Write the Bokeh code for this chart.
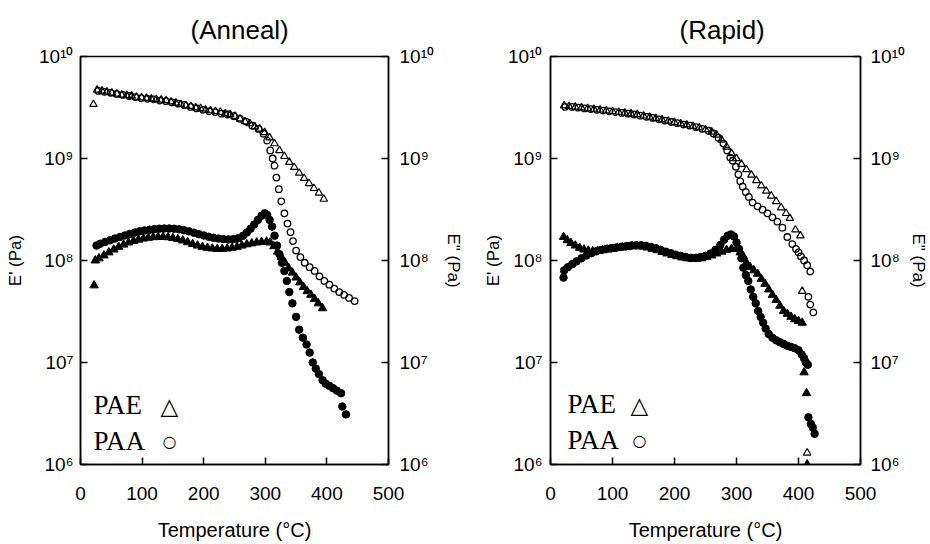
import math
from bokeh.plotting import figure
from bokeh.models import Range1d, FixedTicker, LogAxis, CustomJSTickFormatter, Label
from bokeh.layouts import row
from bokeh.embed import file_html
from bokeh.resources import INLINE

# ---------------- data ----------------
x_ticks = [0, 100, 200, 300, 400, 500]
y_ticks = [1e6, 1e7, 1e8, 1e9, 1e10]
y_tick_labels = ["10⁶", "10⁷", "10⁸", "10⁹", "10¹⁰"]

panel_titles = ["(Anneal)", "(Rapid)"]
x_label = "Temperature (°C)"
y_label_left = "E' (Pa)"
y_label_right = 'E" (Pa)'
legend_names = ["PAE", "PAA"]

# Anneal: PAE E' (open triangles)
anneal_pae_storage_T = [21, 27, 35, 43, 51, 59, 67, 75, 83, 91, 99, 107, 115, 123, 131, 139, 147, 155, 163, 171,
                        179, 187, 195, 203, 211, 219, 227, 235, 243, 251, 259, 267, 275, 283, 291, 299, 307, 315,
                        323, 331, 339, 347, 355, 363, 371, 379, 387, 395]
anneal_pae_storage = [3.4e9, 4.7e9, 4.6e9, 4.5e9, 4.4e9, 4.3e9, 4.2e9, 4.15e9, 4.1e9, 4.0e9, 3.95e9, 3.9e9, 3.85e9,
                      3.8e9, 3.75e9, 3.7e9, 3.6e9, 3.5e9, 3.4e9, 3.3e9, 3.25e9, 3.15e9, 3.1e9, 3.0e9, 2.95e9, 2.9e9,
                      2.85e9, 2.75e9, 2.7e9, 2.6e9, 2.45e9, 2.3e9, 2.2e9, 2.05e9, 1.95e9, 1.8e9, 1.6e9, 1.4e9, 1.2e9,
                      1.05e9, 9.2e8, 8.2e8, 7.2e8, 6.4e8, 5.7e8, 5.1e8, 4.6e8, 4.0e8]
# Anneal: PAA E' (open circles)
anneal_paa_storage_T = [29, 39, 49, 59, 69, 79, 89, 99, 109, 119, 129, 139, 149, 159, 169, 179, 189, 199, 209, 219,
                        229, 239, 249, 259, 269, 279, 289, 297, 303, 308, 312, 315, 318, 322, 326, 331, 336, 341,
                        345, 350, 357, 364, 372, 380, 388, 396, 404, 412, 420, 428, 436, 445]
anneal_paa_storage = [4.6e9, 4.5e9, 4.4e9, 4.3e9, 4.2e9, 4.1e9, 4.0e9, 3.9e9, 3.85e9, 3.8e9, 3.7e9, 3.65e9, 3.55e9,
                      3.45e9, 3.35e9, 3.2e9, 3.1e9, 3.0e9, 2.9e9, 2.85e9, 2.75e9, 2.7e9, 2.6e9, 2.45e9, 2.3e9, 2.1e9,
                      1.95e9, 1.75e9, 1.5e9, 1.2e9, 1.0e9, 8.5e8, 6.5e8, 5.0e8, 3.8e8, 2.9e8, 2.3e8, 1.9e8, 1.55e8,
                      1.25e8, 1.08e8, 9.5e7, 8.6e7, 7.9e7, 7.0e7, 6.3e7, 5.8e7, 5.3e7, 4.9e7, 4.6e7, 4.3e7, 4.0e7]
# Anneal: PAE E" (filled triangles)
anneal_pae_loss_T = [22, 24, 30, 38, 46, 54, 62, 70, 78, 86, 94, 102, 110, 118, 126, 134, 142, 150, 158, 166, 174,
                     182, 190, 198, 206, 214, 222, 230, 238, 246, 254, 262, 270, 278, 286, 294, 302, 308, 314, 320,
                     326, 332, 338, 344, 350, 356, 362, 368, 374, 380, 386, 393]
anneal_pae_loss = [5.7e7, 1.0e8, 1.05e8, 1.12e8, 1.2e8, 1.28e8, 1.36e8, 1.43e8, 1.5e8, 1.55e8, 1.6e8, 1.64e8,
                   1.67e8, 1.69e8, 1.7e8, 1.7e8, 1.69e8, 1.66e8, 1.62e8, 1.57e8, 1.51e8, 1.45e8, 1.4e8, 1.36e8,
                   1.33e8, 1.31e8, 1.3e8, 1.3e8, 1.31e8, 1.33e8, 1.36e8, 1.4e8, 1.44e8, 1.47e8, 1.5e8, 1.52e8,
                   1.53e8, 1.5e8, 1.38e8, 1.22e8, 1.08e8, 9.5e7, 8.4e7, 7.6e7, 6.8e7, 6.1e7, 5.5e7, 5.0e7, 4.6e7,
                   4.2e7, 3.8e7, 3.4e7]
# Anneal: PAA E" (filled circles)
anneal_paa_loss_T = [26, 32, 40, 48, 56, 64, 72, 80, 88, 96, 104, 112, 120, 128, 136, 144, 152, 160, 168, 176, 184,
                     192, 200, 208, 216, 224, 232, 240, 248, 256, 264, 270, 276, 282, 288, 294, 299, 303, 307, 311,
                     315, 319, 323, 327, 331, 335, 339, 344, 350, 355, 361, 367, 372, 377, 382, 387, 393, 398, 404,
                     410, 416, 423, 425, 431]
anneal_paa_loss = [1.4e8, 1.46e8, 1.52e8, 1.58e8, 1.64e8, 1.7e8, 1.76e8, 1.82e8, 1.88e8, 1.93e8, 1.97e8, 2.0e8,
                   2.03e8, 2.05e8, 2.06e8, 2.06e8, 2.05e8, 2.02e8, 1.98e8, 1.93e8, 1.87e8, 1.81e8, 1.76e8, 1.71e8,
                   1.67e8, 1.64e8, 1.62e8, 1.61e8, 1.62e8, 1.65e8, 1.75e8, 1.88e8, 2.05e8, 2.25e8, 2.5e8, 2.75e8,
                   2.9e8, 2.8e8, 2.5e8, 2.15e8, 1.75e8, 1.4e8, 1.15e8, 9.5e7, 7.9e7, 6.3e7, 4.9e7, 3.8e7, 2.8e7,
                   2.1e7, 1.75e7, 1.5e7, 1.25e7, 1.0e7, 8.7e6, 7.7e6, 6.7e6, 6.2e6, 5.9e6, 5.6e6, 5.3e6, 5.0e6,
                   3.7e6, 3.1e6]

# Rapid: PAE E' (open triangles)
rapid_pae_storage_T = [22, 30, 40, 50, 60, 70, 80, 90, 100, 110, 120, 130, 140, 150, 160, 170, 180, 190, 200, 210,
                       220, 230, 240, 250, 260, 268, 276, 284, 292, 300, 308, 316, 324, 332, 340, 348, 356, 364,
                       372, 380, 386, 395, 403, 406, 414]
rapid_pae_storage = [3.3e9, 3.25e9, 3.2e9, 3.15e9, 3.1e9, 3.05e9, 3.0e9, 2.95e9, 2.9e9, 2.85e9, 2.8e9, 2.75e9,
                     2.7e9, 2.62e9, 2.55e9, 2.48e9, 2.4e9, 2.33e9, 2.26e9, 2.2e9, 2.14e9, 2.07e9, 2.0e9, 1.92e9,
                     1.82e9, 1.7e9, 1.52e9, 1.3e9, 1.12e9, 1.0e9, 8.8e8, 7.8e8, 6.9e8, 6.1e8, 5.4e8, 4.8e8, 4.3e8,
                     3.8e8, 3.3e8, 2.9e8, 2.6e8, 2.0e8, 1.75e8, 5.0e7, 1.3e6]
# Rapid: PAA E' (open circles)
rapid_paa_storage_T = [24, 35, 45, 55, 65, 75, 85, 95, 105, 115, 125, 135, 145, 155, 165, 175, 185, 195, 205, 215,
                       225, 235, 245, 255, 263, 271, 279, 285, 290, 294, 299, 303, 306, 310, 315, 320, 326, 334,
                       342, 350, 358, 366, 374, 382, 390, 396, 400, 404, 409, 414, 419, 416, 419, 424]
rapid_paa_storage = [3.2e9, 3.2e9, 3.15e9, 3.1e9, 3.05e9, 3.0e9, 2.95e9, 2.9e9, 2.85e9, 2.8e9, 2.75e9, 2.7e9,
                     2.63e9, 2.56e9, 2.5e9, 2.42e9, 2.35e9, 2.28e9, 2.22e9, 2.15e9, 2.1e9, 2.03e9, 1.95e9, 1.87e9,
                     1.76e9, 1.6e9, 1.4e9, 1.2e9, 1.02e9, 9.5e8, 8.3e8, 7.0e8, 6.0e8, 5.3e8, 4.7e8, 4.2e8, 3.7e8,
                     3.4e8, 3.15e8, 2.9e8, 2.65e8, 2.4e8, 2.1e8, 1.7e8, 1.45e8, 1.3e8, 1.2e8, 1.1e8, 1.0e8, 9.0e7,
                     7.8e7, 4.4e7, 3.7e7, 3.1e7]
# Rapid: PAE E" (filled triangles)
rapid_pae_loss_T = [21, 27, 33, 40, 47, 54, 61, 68, 76, 84, 92, 100, 108, 116, 124, 132, 140, 148, 156, 164, 172,
                    180, 188, 196, 204, 212, 220, 228, 236, 244, 252, 260, 268, 276, 284, 292, 300, 306, 311, 316,
                    322, 328, 334, 340, 346, 352, 358, 364, 370, 376, 382, 388, 394, 400, 406, 409, 413, 414]
rapid_pae_loss = [1.7e8, 1.58e8, 1.48e8, 1.4e8, 1.33e8, 1.28e8, 1.25e8, 1.23e8, 1.24e8, 1.26e8, 1.28e8, 1.3e8,
                  1.32e8, 1.34e8, 1.36e8, 1.38e8, 1.38e8, 1.37e8, 1.34e8, 1.3e8, 1.26e8, 1.21e8, 1.17e8, 1.13e8,
                  1.1e8, 1.07e8, 1.05e8, 1.04e8, 1.04e8, 1.05e8, 1.08e8, 1.12e8, 1.17e8, 1.22e8, 1.27e8, 1.3e8,
                  1.3e8, 1.2e8, 1.1e8, 9.5e7, 8.6e7, 8.0e7, 7.4e7, 6.6e7, 5.9e7, 5.2e7, 4.6e7, 4.1e7, 3.6e7,
                  3.2e7, 3.0e7, 2.8e7, 2.65e7, 2.55e7, 2.45e7, 8.0e6, 5.0e6, 1.0e6]
# Rapid: PAA E" (filled circles)
rapid_paa_loss_T = [21, 22, 28, 35, 42, 50, 58, 66, 74, 82, 90, 98, 106, 114, 122, 130, 138, 146, 154, 162, 170,
                    178, 186, 194, 202, 210, 218, 226, 234, 242, 250, 258, 266, 274, 280, 286, 291, 296, 300, 304,
                    308, 311, 315, 319, 323, 327, 331, 335, 339, 343, 347, 352, 358, 364, 370, 376, 382, 388, 394,
                    400, 405, 409, 412, 415, 416, 420, 423, 426]
rapid_paa_loss = [6.8e7, 8.0e7, 8.6e7, 9.2e7, 9.8e7, 1.05e8, 1.12e8, 1.18e8, 1.23e8, 1.27e8, 1.3e8, 1.32e8, 1.34e8,
                  1.36e8, 1.38e8, 1.4e8, 1.41e8, 1.41e8, 1.39e8, 1.36e8, 1.32e8, 1.27e8, 1.22e8, 1.18e8, 1.14e8,
                  1.11e8, 1.08e8, 1.06e8, 1.06e8, 1.08e8, 1.11e8, 1.17e8, 1.27e8, 1.42e8, 1.6e8, 1.75e8, 1.8e8,
                  1.72e8, 1.5e8, 1.3e8, 1.05e8, 8.5e7, 7.2e7, 6.3e7, 5.2e7, 4.4e7, 3.8e7, 3.2e7, 2.8e7, 2.45e7,
                  2.15e7, 1.9e7, 1.75e7, 1.65e7, 1.58e7, 1.52e7, 1.46e7, 1.42e7, 1.38e7, 1.32e7, 1.2e7, 1.1e7,
                  1.0e7, 9.5e6, 2.9e6, 2.5e6, 2.3e6, 2.0e6]

SANS = "Liberation Sans"
SERIF = "Liberation Serif"

FMT_CODE = """
const lt = Math.log10(tick);
for (let i = 0; i < tv.length; i++) {
  if (Math.abs(Math.log10(tv[i]) - lt) < 1e-6) { return tl[i]; }
}
return "";
"""


def style_axis(ax, standoff):
    ax.major_tick_in = 7
    ax.major_tick_out = 0
    ax.minor_tick_line_color = None
    ax.minor_tick_in = 0
    ax.minor_tick_out = 0
    ax.axis_line_color = "black"
    ax.axis_line_width = 1.5
    ax.major_tick_line_color = "black"
    ax.major_tick_line_width = 1.5
    ax.major_label_text_font = SANS
    ax.major_label_text_font_size = "19px"
    ax.major_label_text_color = "black"
    ax.major_label_standoff = standoff
    ax.axis_label_text_font = SANS
    ax.axis_label_text_font_style = "normal"
    ax.axis_label_text_color = "black"


def make_panel(title, title_offset, width, border_l, border_r, series, lab):
    p = figure(width=width, height=544, x_range=Range1d(0, 500), y_range=Range1d(1e6, 1e10),
               y_axis_type="log", output_backend="svg", toolbar_location=None, title=title,
               min_border_left=border_l, min_border_right=border_r, min_border_top=56, min_border_bottom=80)
    p.grid.visible = False
    p.outline_line_color = "black"
    p.outline_line_width = 1.5
    p.background_fill_color = "white"
    p.border_fill_color = "white"

    p.title.align = "left"
    p.title.offset = title_offset
    p.title.text_font = SANS
    p.title.text_font_size = "26px"
    p.title.text_font_style = "normal"
    p.title.text_color = "black"
    p.title.standoff = 24

    fmt = CustomJSTickFormatter(args=dict(tv=y_ticks, tl=y_tick_labels), code=FMT_CODE)
    yl = p.yaxis[0]
    yl.ticker = FixedTicker(ticks=y_ticks)
    yl.formatter = fmt
    style_axis(yl, lab["ls"])
    yl.axis_label = y_label_left
    yl.axis_label_text_font_size = "17px"
    yl.axis_label_standoff = lab["las"]

    yr = LogAxis(ticker=FixedTicker(ticks=y_ticks), formatter=fmt)
    p.add_layout(yr, "right")
    style_axis(yr, lab["rs"])
    yr.axis_label = y_label_right
    yr.axis_label_text_font_size = "17px"
    yr.axis_label_standoff = lab["ras"]

    xa = p.xaxis[0]
    xa.ticker = FixedTicker(ticks=x_ticks)
    style_axis(xa, 22)
    xa.axis_label = x_label
    xa.axis_label_text_font_size = "20px"
    xa.axis_label_standoff = 16

    (pe_T, pe_v), (pa_T, pa_v), (pel_T, pel_v), (pal_T, pal_v) = series
    p.scatter(pe_T, pe_v, marker="triangle", size=7.5, line_color="black", fill_color=None, line_width=1.2)
    p.scatter(pa_T, pa_v, marker="circle", size=6.5, line_color="black", fill_color=None, line_width=1.3)
    p.scatter(pel_T, pel_v, marker="triangle", size=8.5, line_color="black", fill_color="black")
    p.scatter(pal_T, pal_v, marker="circle", size=7.5, line_color="black", fill_color="black")

    # in-plot key
    p.add_layout(Label(x=lab["kx"], y=lab["ky1"], x_units="screen", y_units="screen", text=legend_names[0],
                       text_font=SERIF, text_font_size="27px", text_color="black", text_baseline="alphabetic"))
    p.add_layout(Label(x=lab["kx"], y=lab["ky2"], x_units="screen", y_units="screen", text=legend_names[1],
                       text_font=SERIF, text_font_size="27px", text_color="black", text_baseline="alphabetic"))
    p.add_layout(Label(x=lab["sx"], y=lab["ky1"] - 1, x_units="screen", y_units="screen", text="△",
                       text_font="DejaVu Sans", text_font_size="23px", text_color="black",
                       text_baseline="alphabetic"))
    p.add_layout(Label(x=lab["sx"] + 2, y=lab["ky2"] - 1, x_units="screen", y_units="screen", text="○",
                       text_font="DejaVu Sans", text_font_size="16px", text_color="black",
                       text_baseline="middle"))
    return p


p1 = make_panel(panel_titles[0], 110, 465, 80, 76,
                [(anneal_pae_storage_T, anneal_pae_storage), (anneal_paa_storage_T, anneal_paa_storage),
                 (anneal_pae_loss_T, anneal_pae_loss), (anneal_paa_loss_T, anneal_paa_loss)],
                dict(ls=7, rs=11, las=11, ras=7, kx=13, ky1=60, ky2=24, sx=80))
p2 = make_panel(panel_titles[1], 129, 465, 85, 70,
                [(rapid_pae_storage_T, rapid_pae_storage), (rapid_paa_storage_T, rapid_paa_storage),
                 (rapid_pae_loss_T, rapid_pae_loss), (rapid_paa_loss_T, rapid_paa_loss)],
                dict(ls=8, rs=10, las=2, ras=1, kx=17, ky1=61, ky2=25, sx=80))

layout = row(p1, p2)
open("out.html", "w").write(file_html(layout, INLINE))
